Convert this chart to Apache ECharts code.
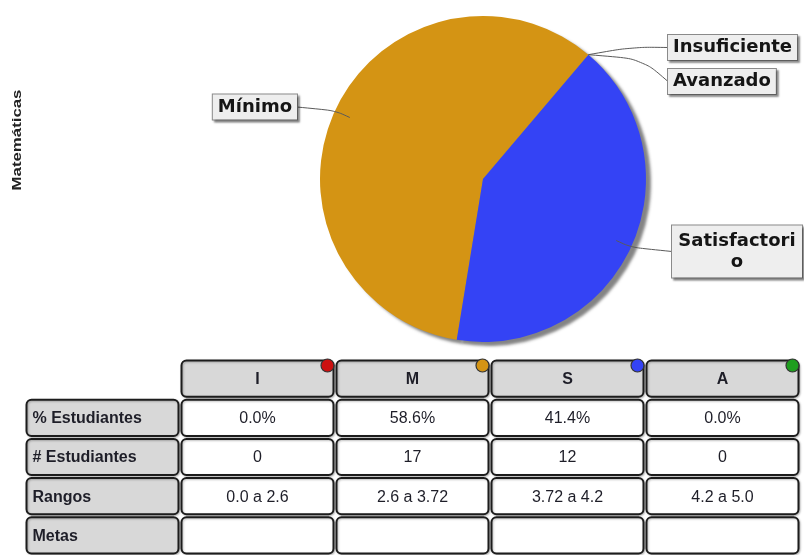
<!DOCTYPE html>
<html><head><meta charset="utf-8">
<script src="https://cdn.jsdelivr.net/npm/echarts@6/dist/echarts.min.js"></script>
<style>html,body{margin:0;padding:0;background:#fff}#c{width:804px;height:555px}</style>
</head><body><div id="c"></div>
<script>
// ---------- data ----------
const subject = 'Matemáticas';
const categories = ['Insuficiente', 'Mínimo', 'Satisfactorio', 'Avanzado'];
const shortNames = ['I', 'M', 'S', 'A'];
const students = [0, 17, 12, 0];
const ranges = ['0.0 a 2.6', '2.6 a 3.72', '3.72 a 4.2', '4.2 a 5.0'];
const goals = ['', '', '', ''];
const rowLabels = ['% Estudiantes', '# Estudiantes', 'Rangos', 'Metas'];

// ---------- style / layout ----------
const colors = ['#cc1111', '#d49414', '#3443f5', '#1f9e1f'];
const CENTER = [483, 179];
const R = 163;
const START = 49.7;
const placement = [
  { x: 668, y: 47.5, align: 'left', endX: 668, bend: [632, 47] },
  { x: 297, y: 107, align: 'right', endX: 297 },
  { x: 737, y: 251.5, align: 'center', endX: 672 },
  { x: 668, y: 81.5, align: 'left', endX: 668, bend: [642, 59] }
];

const total = students.reduce((a, b) => a + b, 0);
const percentLabels = students.map(v => (v / total * 100).toFixed(1) + '%');

function labelLayout(params) {
  const i = params.dataIndex;
  let cum = 0;
  for (let k = 0; k < i; k++) cum += students[k];
  const mid = (START + (cum + students[i] / 2) / total * 360) * Math.PI / 180;
  const dir = [Math.cos(mid), -Math.sin(mid)];
  const at = f => [CENTER[0] + dir[0] * R * f, CENTER[1] + dir[1] * R * f];
  const p = placement[i];
  const pts = students[i] > 0
    ? [at(0.9), at(1.0), [p.endX, p.y]]
    : [at(1.0), p.bend, [p.endX, p.y]];
  return { x: p.x, y: p.y, align: p.align, verticalAlign: 'middle', labelLinePoints: pts };
}

const labelBase = {
  show: true,
  position: 'outside',
  formatter: '{b}',
  fontFamily: 'DejaVu Sans',
  fontWeight: 'bold',
  fontSize: 18,
  lineHeight: 21,
  color: '#151515',
  backgroundColor: '#eeeeee',
  borderColor: '#8a8a8a',
  borderWidth: 1,
  padding: [2, 5],
  shadowColor: 'rgba(0,0,0,0.35)',
  shadowBlur: 2,
  shadowOffsetX: 2,
  shadowOffsetY: 2
};

const pieData = categories.map((name, i) => ({ name: name, value: students[i], itemStyle: { color: colors[i] } }));
const labelData = categories.map((name, i) => {
  const d = { name: name, value: students[i] };
  if (i === 2) {
    d.label = { width: 118, overflow: 'break', padding: [5, 6], align: 'center' };
  }
  return d;
});

// ---------- table cells ----------
const cells = [];
shortNames.forEach((n, j) => cells.push({ col: j + 1, row: 0, text: n, kind: 'head', dot: colors[j] }));
rowLabels.forEach((l, r) => cells.push({ col: 0, row: r + 1, text: l, kind: 'label' }));
const rowValues = [percentLabels, students.map(String), ranges, goals];
rowValues.forEach((vals, r) => vals.forEach((v, j) => cells.push({ col: j + 1, row: r + 1, text: v, kind: 'cell' })));

function renderCell(params, api) {
  const cell = cells[params.dataIndex];
  const c = api.coord([api.value(0), api.value(1)]);
  const s = api.size([1, 1]);
  const w = s[0] - 3, h = s[1] - 3;
  const x = c[0] - w / 2, y = c[1] - h / 2;
  const fill = cell.kind === 'cell' ? '#ffffff' : '#d8d8d8';
  const children = [{
    type: 'rect',
    shape: { x: x, y: y, width: w, height: h, r: 5 },
    style: { fill: fill, stroke: '#1c1c1c', lineWidth: 2,
      shadowColor: 'rgba(0,0,0,0.25)', shadowBlur: 2, shadowOffsetX: 1, shadowOffsetY: 1 }
  }];
  const bold = cell.kind !== 'cell';
  children.push({
    type: 'text',
    style: {
      text: cell.text,
      x: cell.kind === 'label' ? x + 6 : c[0],
      y: c[1] + 1,
      align: cell.kind === 'label' ? 'left' : 'center',
      verticalAlign: 'middle',
      font: (bold ? 'bold ' : '') + '16px "Liberation Sans", Arial, sans-serif',
      fill: '#1e1e28'
    }
  });
  if (cell.dot) {
    children.push({
      type: 'circle',
      shape: { cx: x + w - 6, cy: y + 5, r: 6.5 },
      style: { fill: cell.dot, stroke: '#333', lineWidth: 1.2 }
    });
  }
  return { type: 'group', children: children };
}

const chart = echarts.init(document.getElementById('c'), null, { renderer: 'canvas' });
chart.setOption({
  backgroundColor: '#ffffff',
  animation: false,
  graphic: [{
    type: 'text',
    x: 18, y: 140,
    rotation: Math.PI / 2,
    scaleX: 1.4,
    style: {
      text: subject,
      font: 'bold 12px "Liberation Sans", Arial, sans-serif',
      fill: '#222',
      align: 'center',
      verticalAlign: 'middle'
    }
  }],
  grid: { left: 25, top: 359, width: 775, height: 200, containLabel: false },
  xAxis: { type: 'category', data: [''].concat(shortNames), show: false },
  yAxis: { type: 'category', data: ['head'].concat(rowLabels), inverse: true, show: false },
  series: [
    {
      type: 'pie',
      z: 2,
      center: CENTER,
      radius: R,
      startAngle: START,
      clockwise: false,
      silent: true,
      itemStyle: {
        borderWidth: 0,
        shadowColor: 'rgba(50,50,50,0.6)',
        shadowBlur: 3,
        shadowOffsetX: 5,
        shadowOffsetY: 4
      },
      label: { show: false },
      labelLine: { show: false },
      data: pieData
    },
    {
      type: 'pie',
      z: 5,
      center: CENTER,
      radius: R,
      startAngle: START,
      clockwise: false,
      avoidLabelOverlap: false,
      minShowLabelAngle: 0,
      silent: true,
      itemStyle: { color: 'rgba(0,0,0,0)', borderWidth: 0 },
      label: labelBase,
      labelLine: { show: true, showAbove: true, length: 20, length2: 20, smooth: 0.35,
        lineStyle: { color: '#5a5a5a', width: 1 } },
      labelLayout: labelLayout,
      data: labelData
    },
    {
      type: 'custom',
      coordinateSystem: 'cartesian2d',
      renderItem: renderCell,
      clip: false,
      silent: true,
      data: cells.map(c => [c.col, c.row])
    }
  ]
});
</script>
</body></html>
